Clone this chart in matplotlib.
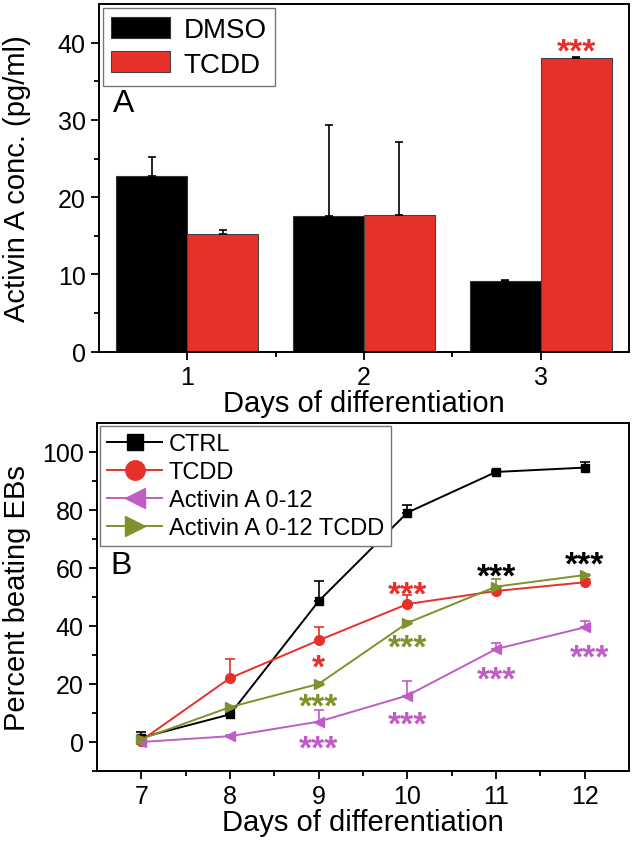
import matplotlib
matplotlib.use("Agg")
import matplotlib.pyplot as plt
import numpy as np

plt.rcParams['font.family'] = ['Liberation Sans', 'DejaVu Sans']

# panel A data
days_a = [1, 2, 3]
dmso = [22.8, 17.6, 9.1]
dmso_err = [2.4, 11.8, 0.2]
tcdd_a = [15.2, 17.7, 38.0]
tcdd_a_err = [0.5, 9.5, 0.2]

# panel B data
days_b = [7, 8, 9, 10, 11, 12]
ctrl = [1.5, 9.5, 48.5, 79, 93, 94.5]
ctrl_err = [2.0, 0.5, 7.0, 2.5, 0.5, 2.0]
tcdd_b = [0.5, 22, 35, 47.5, 52, 55]
tcdd_b_err = [0.3, 6.5, 4.5, 3.0, 1.0, 1.0]
act = [0, 2, 7, 16, 32, 39.5]
act_err = [0.3, 0.3, 4.0, 5.0, 2.0, 2.0]
act_tcdd = [1, 12, 20, 41, 53.5, 57.5]
act_tcdd_err = [0.3, 0.3, 0.5, 0.5, 2.5, 0.5]

# significance marks (x, centre y, text, colour key)
sig_x = [11, 12, 10, 9, 10, 9, 9, 10, 11, 12.05]
sig_y = [60.7, 64.8, 54.5, 29.6, 36.2, 15.9, 1.4, 9.7, 25.2, 32.8]
sig_txt = ['***', '***', '***', '*', '***', '***', '***', '***', '***', '***']
sig_col = ['k', 'k', 'r', 'r', 'o', 'o', 'p', 'p', 'p', 'p']

RED = '#e8302b'
PURPLE = '#bf5cc6'
OLIVE = '#80902c'
cmap = {'k': 'black', 'r': RED, 'o': OLIVE, 'p': PURPLE}

TICK = 18
LAB = 21

fig = plt.figure(figsize=(6.33, 8.54), dpi=100)

# ---------- panel A ----------
ax1 = fig.add_axes([0.156, 0.587, 0.838, 0.407])
w = 0.4
x = np.array(days_a)
ax1.bar(x - w / 2, dmso, w, color='black', edgecolor='#333333', linewidth=0.8, label='DMSO')
ax1.bar(x + w / 2, tcdd_a, w, color=RED, edgecolor='#444444', linewidth=0.8, label='TCDD')
ax1.errorbar(x - w / 2, dmso, yerr=[np.zeros(3), dmso_err], fmt='none', ecolor='black',
             elinewidth=1.2, capsize=3, capthick=1.2)
ax1.errorbar(x + w / 2, tcdd_a, yerr=[np.zeros(3), tcdd_a_err], fmt='none', ecolor='black',
             elinewidth=1.2, capsize=3, capthick=1.2)
ax1.set_xlim(0.5, 3.5)
ax1.set_ylim(0, 45)
ax1.set_xticks(days_a)
ax1.set_xticks([1.5, 2.5], minor=True)
ax1.set_yticks([0, 10, 20, 30, 40])
ax1.set_yticks([5, 15, 25, 35], minor=True)
ax1.tick_params(which='both', direction='out', labelsize=TICK, width=1.3)
ax1.tick_params(which='major', length=6)
ax1.tick_params(which='minor', length=3.5)
ax1.set_xlabel('Days of differentiation', fontsize=LAB, labelpad=0)
ax1.set_ylabel('Activin A conc. (pg/ml)', fontsize=LAB)
ax1.yaxis.set_label_coords(-0.128, 0.5)
# asterisk glyph centre sits ~20 px above its baseline
ax1.text(3.2, 40.3 - 2.6, '***', color=RED, fontsize=24, fontweight='bold',
         ha='center', va='baseline')
ax1.text(0.64, 32.2, 'A', fontsize=23, ha='center', va='center')
leg1 = ax1.legend(loc='upper left', fontsize=20, handlelength=2.1, handleheight=0.8,
                  borderaxespad=0.15, borderpad=0.3, labelspacing=0.3, handletextpad=0.5,
                  fancybox=False, edgecolor='#777777', framealpha=1)
leg1.get_frame().set_linewidth(1.0)
for s in ax1.spines.values():
    s.set_linewidth(1.4)

# ---------- panel B ----------
ax2 = fig.add_axes([0.153, 0.096, 0.841, 0.408])
series = [
    ('CTRL', ctrl, ctrl_err, 'black', 's', 6),
    ('TCDD', tcdd_b, tcdd_b_err, RED, 'o', 7),
    ('Activin A 0-12', act, act_err, PURPLE, '<', 7),
    ('Activin A 0-12 TCDD', act_tcdd, act_tcdd_err, OLIVE, '>', 7),
]
for name, vals, err, col, mk, ms in series:
    ax2.errorbar(days_b, vals, yerr=[np.zeros(len(vals)), err], fmt='none', ecolor=col,
                 elinewidth=1.2, capsize=3.5, capthick=1.2)
    ax2.plot(days_b, vals, color=col, marker=mk, markersize=ms, linewidth=1.4, label=name)
ax2.set_xlim(6.5, 12.5)
ax2.set_ylim(-10, 110)
ax2.set_xticks(days_b)
ax2.set_xticks(np.arange(7.5, 12.5, 1), minor=True)
ax2.set_yticks([0, 20, 40, 60, 80, 100])
ax2.set_yticks([-10, 10, 30, 50, 70, 90], minor=True)
ax2.tick_params(which='both', direction='out', labelsize=TICK, width=1.3)
ax2.tick_params(which='major', length=6)
ax2.tick_params(which='minor', length=3.5)
ax2.set_xlabel('Days of differentiation', fontsize=LAB, labelpad=0)
ax2.set_ylabel('Percent beating EBs', fontsize=LAB)
ax2.yaxis.set_label_coords(-0.124, 0.5)
for s in ax2.spines.values():
    s.set_linewidth(1.4)

for sx, sy, st, sc in zip(sig_x, sig_y, sig_txt, sig_col):
    ax2.text(sx, sy - 6.9, st, color=cmap[sc], fontsize=24, fontweight='bold',
             ha='center', va='baseline')
ax2.text(6.77, 61, 'B', fontsize=23, ha='center', va='center')

leg2 = ax2.legend(loc='upper left', fontsize=17, handlelength=2.3,
                  borderaxespad=0.15, borderpad=0.3, labelspacing=0.25, handletextpad=0.3,
                  markerscale=2.0, fancybox=False, edgecolor='#777777', framealpha=1)
leg2.get_frame().set_linewidth(1.0)

fig.savefig('out.png', dpi=100)
